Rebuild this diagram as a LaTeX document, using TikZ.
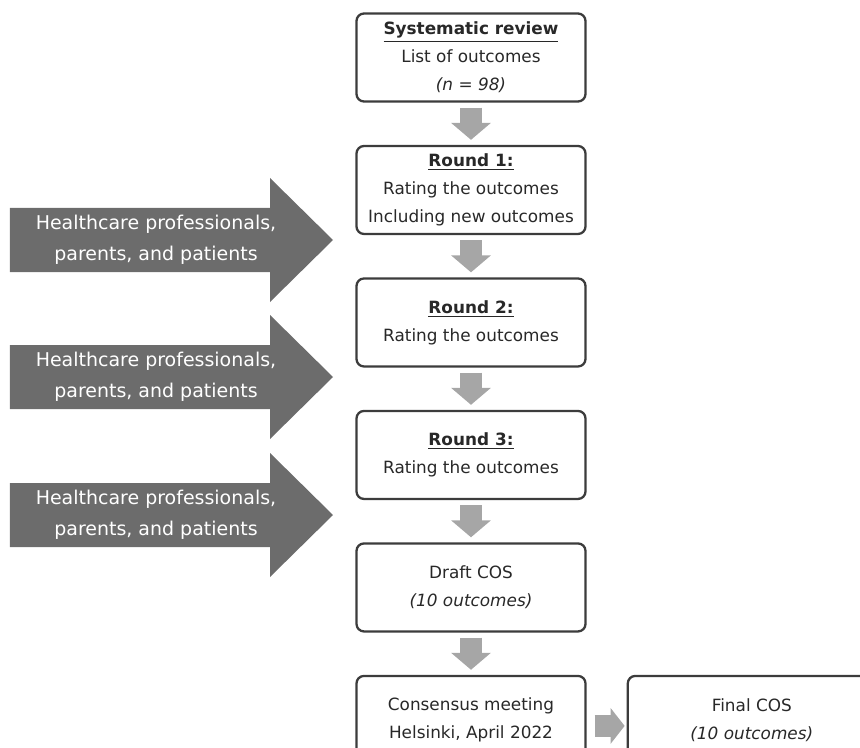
\documentclass[tikz,border=0pt]{standalone}
\usepackage{fontspec}
\setmainfont{DejaVu Sans}
\usepackage{tikz}
\usetikzlibrary{arrows.meta,positioning}
\definecolor{cosline}{RGB}{60,60,60}
\definecolor{costext}{RGB}{40,40,40}
\definecolor{cosflow}{RGB}{166,166,166}
\definecolor{cosdark}{RGB}{108,108,108}

\begin{document}
\begin{tikzpicture}[
    stagebox/.style={draw=cosline,line width=1.3pt,rounded corners=0.15cm,fill=white,
      minimum width=4.58cm,minimum height=1.76cm,align=center,text=costext,
      font=\fontsize{9.6}{15.9}\selectfont},
    flowarrow/.style={draw=cosflow,line width=0.44cm,-{Triangle[width=0.78cm,length=0.34cm]}},
    panelarrow/.style={fill=cosdark},
    paneltext/.style={text=white,align=center,font=\fontsize{10.8}{17.6}\selectfont},
    node distance=0.844cm]
    % Fluxo Delphi: revisao, tres rondas, rascunho e reuniao de consenso
    \useasboundingbox (0,0) rectangle (17.2,14.94);
    \clip (0,0) rectangle (17.2,14.94);

    \node[stagebox] (review) at (9.42,13.79)
      {\underline{\textbf{Systematic review}}\\List of outcomes\\\textit{(n = 98)}};
    \node[stagebox,below=of review] (round1)
      {\underline{\textbf{Round 1:}}\\Rating the outcomes\\Including new outcomes};
    \node[stagebox,below=of round1] (round2)
      {\underline{\textbf{Round 2:}}\\Rating the outcomes};
    \node[stagebox,below=of round2] (round3)
      {\underline{\textbf{Round 3:}}\\Rating the outcomes};
    \node[stagebox,below=of round3] (draft)
      {Draft COS\\\textit{(10 outcomes)}};
    \node[stagebox,below=of draft] (consensus)
      {Consensus meeting\\Helsinki, April 2022};
    \node[stagebox,right=0.8cm of consensus,minimum width=4.96cm] (final)
      {Final COS\\\textit{(10 outcomes)}};

    \draw[flowarrow] ([yshift=-0.1cm]review.south) -- ([yshift=0.1cm]round1.north);
    \draw[flowarrow] ([yshift=-0.1cm]round1.south) -- ([yshift=0.1cm]round2.north);
    \draw[flowarrow] ([yshift=-0.1cm]round2.south) -- ([yshift=0.1cm]round3.north);
    \draw[flowarrow] ([yshift=-0.1cm]round3.south) -- ([yshift=0.1cm]draft.north);
    \draw[flowarrow] ([yshift=-0.1cm]draft.south) -- ([yshift=0.1cm]consensus.north);
    \draw[flowarrow,-{Triangle[width=0.7cm,length=0.28cm]}]
      ([xshift=0.16cm,yshift=-0.12cm]consensus.east) -- ([xshift=-0.04cm,yshift=-0.12cm]final.west);

    \fill[panelarrow] (0.2,9.50) -- ++(5.2,0) -- ++(0,-0.6) -- ++(1.26,1.24)
      -- ++(-1.26,1.24) -- ++(0,-0.6) -- ++(-5.2,0) -- cycle;
    \node[paneltext] (panel1) at (3.12,10.14) {Healthcare professionals,\\parents, and patients};
    \fill[panelarrow] (0.2,6.76) -- ++(5.2,0) -- ++(0,-0.6) -- ++(1.26,1.24)
      -- ++(-1.26,1.24) -- ++(0,-0.6) -- ++(-5.2,0) -- cycle;
    \node[paneltext] (panel2) at (3.12,7.40) {Healthcare professionals,\\parents, and patients};
    \fill[panelarrow] (0.2,4.00) -- ++(5.2,0) -- ++(0,-0.6) -- ++(1.26,1.24)
      -- ++(-1.26,1.24) -- ++(0,-0.6) -- ++(-5.2,0) -- cycle;
    \node[paneltext] (panel3) at (3.12,4.64) {Healthcare professionals,\\parents, and patients};
  \end{tikzpicture}
\end{document}
